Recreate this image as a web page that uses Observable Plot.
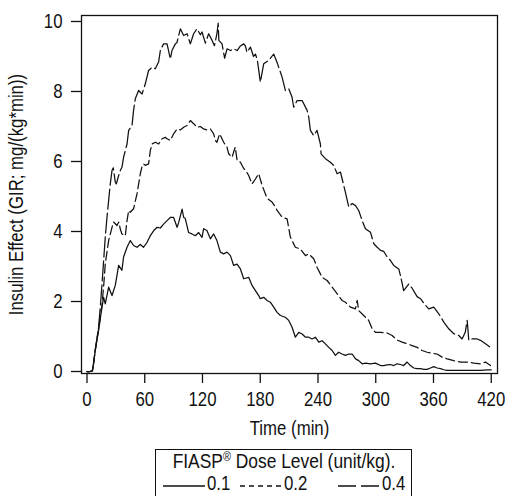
<!DOCTYPE html>
<html>
<head>
<meta charset="utf-8">
<script src="https://cdn.jsdelivr.net/npm/d3@7"></script>
<script src="https://cdn.jsdelivr.net/npm/@observablehq/plot@0.6"></script>
<style>
  body { margin: 0; background: #fff; }
  #wrap { position: relative; width: 505px; height: 496px; overflow: hidden; font-family: "Liberation Sans", Arial, sans-serif; color: #111; }
  #legend { position: absolute; left: 155px; top: 449px; width: 257px; height: 60px; border: 1.3px solid #111; box-sizing: border-box; font-size: 20px; }
  #legend .ttl { position: absolute; left: 0; right: 0; top: 1px; line-height: 20px; white-space: nowrap; text-align: center; }
  #legend .ttl span.in { display: inline-block; transform: scaleX(0.87); transform-origin: 50% 50%; }
  #legend .ttl sup { font-size: 0.62em; vertical-align: 0.55em; line-height: 0; }
  #legend .row { position: absolute; left: 0; top: 23px; width: 100%; height: 22px; }
  #legend .item { position: absolute; top: 0; white-space: nowrap; line-height: 20px; }
  #legend .item svg { vertical-align: middle; position: relative; top: 1px; }
  #legend .item span { display: inline-block; transform: scaleX(0.84); transform-origin: 0 50%; margin-left: 2px; }
</style>
</head>
<body>
<div id="wrap"></div>
<script>
// ---- data ----
const doses = ["0.1", "0.2", "0.4"];
const xTicks = [0, 60, 120, 180, 240, 300, 360, 420];
const yTicks = [0, 2, 4, 6, 8, 10];
const xLabel = "Time (min)";
const yLabel = "Insulin Effect (GIR; mg/(kg*min))";
const legendTitle = "FIASP® Dose Level (unit/kg).";

const t01 = [0,3,5.6,6.9,8.6,12,15.6,17.3,19,22.5,26,29.4,32.9,36.3,38,41.6,45,48.4,52,55.4,58.8,62.4,65.8,69.2,72.8,76.2,79.6,83.2,86.6,90,93.6,95.3,98.8,100.5,102,105.6,109,112.6,116,119.5,121.2,124.6,128.2,131.6,135,138.6,142,145.5,149,152.4,155.9,159.4,162.8,168,171.5,175,178.4,180,183.6,187.1,190.5,194,197.5,201,206,209.6,213,216.5,220,223.5,227,230.4,233.9,237.3,240.8,244.3,247.7,251.2,254.7,258.1,261.5,265,268.5,272,275.5,279,282.3,285.9,289.4,294.5,299.7,305,308.3,311.8,315.3,318.7,322.2,325.7,329,332.6,336,339.5,343,346.5,350,353.4,356.9,360.3,363.8,367.3,370.7,374.2,381,388,395,401.9,408.8,415.8,420];
const y01 = [0,0,0.02,0.23,0.6,1.17,1.84,2.12,1.93,2.41,2.17,2.46,3.03,2.89,3.27,3.55,3.74,3.6,3.55,3.63,3.55,3.69,3.88,4.02,4.12,4.1,4.21,4.31,4.4,4.4,4.12,4.26,4.64,4.4,4.38,3.97,3.93,3.88,3.97,3.83,4.08,4.03,3.79,3.93,3.74,3.41,3.36,3.41,3.31,3.03,3.07,2.93,2.65,2.69,2.46,2.31,2.17,2.08,2.12,2.03,1.98,1.84,1.69,1.6,1.55,1.46,1.27,0.98,1.12,1.07,0.98,0.98,0.93,0.98,0.84,0.88,0.79,0.69,0.6,0.46,0.55,0.5,0.46,0.5,0.5,0.36,0.31,0.22,0.24,0.22,0.24,0.17,0.17,0.19,0.2,0.17,0.22,0.2,0.17,0.27,0.17,0.1,0.08,0.08,0.06,0.06,0.1,0.14,0.1,0.08,0.05,0.03,0.03,0.03,0.03,0.03,0.03,0.05,0.05];

const t02 = [0,3,5.6,6.9,8.6,12,15.6,17.5,19,22.5,26,27.7,31.2,33,34.6,36.3,39.8,41.6,43.3,45,48.4,52,55.4,57,58.8,60.6,64,65.8,67.5,71,74.5,78,81.4,83.1,86.6,90,93.6,97,100.4,104,107.4,110.8,114.3,117.8,121.2,124.7,128.2,131.6,133.4,135,137.8,142,145.5,147.2,150.7,154,156,159.4,162.8,165,168,171.5,175,178.4,182,184,187.1,192.3,195.7,197.5,202.7,207.9,211.3,216.5,221.7,227,230.4,235.6,239,244.3,249.5,254.7,260,265,268.5,273.7,278.9,280.7,282.3,287.5,292.7,296.3,299.7,305,311.9,317,322.2,327.4,332.6,337.8,343,348.2,353.4,358.6,363.8,369,374.2,381,388,395,401.9,408.8,414,419.2];
const y02 = [0,0,0.02,0.25,0.62,1.2,1.9,2.5,3.08,3.74,4.12,4.27,4.17,4.27,4.07,3.93,3.88,4.31,4.6,4.55,4.65,5.08,5.65,5.84,5.93,5.89,5.93,6.31,6.5,6.55,6.5,6.65,6.69,6.65,6.6,6.79,6.93,6.9,6.98,7.03,7.17,7.08,6.98,7.0,6.93,6.9,6.93,6.79,6.6,6.55,6.79,6.55,6.41,6.22,6.12,6.41,6.03,5.98,5.8,5.74,5.6,5.36,5.5,5.65,5.31,5.17,4.95,4.84,4.7,4.6,4.41,4.36,3.84,3.55,3.5,3.31,3.36,3.22,2.98,2.69,2.6,2.41,2.22,2.03,1.98,1.84,1.79,2.03,1.74,1.6,1.46,1.22,1.12,1.12,1.1,1.03,0.9,0.84,0.79,0.74,0.69,0.6,0.55,0.52,0.5,0.41,0.36,0.31,0.27,0.27,0.24,0.22,0.27,0.17];

const t04 = [0,3,5.6,6.9,8.6,12,14,15.6,17.3,19,20.8,22.5,24.2,26,27.3,29.4,30.5,32.9,34.6,36.4,38,41.6,43.3,46.8,48.4,50.2,53.6,57.2,60.6,64,67.6,71,74.4,76.2,79.6,83.2,86.6,88.3,91.8,93.5,97,100.4,104,107.4,110.8,114.3,117.8,119.5,123,126.4,130,132.4,135,136.3,137,140.3,143,145.5,149,152.4,156,159.4,162.8,164.6,166.2,169.8,173,175,177,180.1,183.6,188.8,194,198,202.7,206.1,209.6,213,214.8,218.3,223.5,228.7,230.4,232.1,235.6,239,242.5,243.2,247.7,252.9,256.3,259.9,263.3,266,268.5,272,275.5,279,282.3,285.9,289.3,294.5,298,301.5,305,308.4,311.9,315.3,318.7,323.9,325.7,329,334.3,337.8,343,346.5,351.7,355,360.3,365.5,370.7,375.9,381,386.3,389.7,393,395,396.7,400,405.4,408.8,414,419.2];
const y04 = [0,0,0.02,0.25,0.62,1.25,1.9,2.5,3.17,3.84,4.41,4.89,5.36,5.74,5.82,5.41,5.36,5.6,5.74,5.84,6.12,6.5,6.89,7.03,7.46,7.79,8.03,7.93,8.22,8.6,8.69,8.65,8.84,9.17,9.36,9.36,8.93,9.17,9.36,9.4,9.79,9.6,9.65,9.36,9.65,9.79,9.62,9.7,9.38,9.65,9.46,9.31,9.65,9.95,9.46,9.36,8.95,9.22,9.17,9.22,9.17,9.3,9.36,9.3,9.12,9.27,9.0,9.07,8.9,8.27,8.79,8.89,9.07,8.79,8.41,8.03,8.08,7.84,7.55,7.74,7.74,7.46,7.27,6.89,6.74,6.89,6.5,6.22,6.08,5.98,5.89,5.65,5.7,5.4,5.12,4.7,4.8,4.74,4.6,4.31,4.08,3.98,3.65,3.55,3.46,3.43,3.27,3.17,3.03,2.93,2.74,2.31,2.5,2.38,2.14,2.08,1.89,1.79,1.84,1.65,1.41,1.22,1.08,1.03,0.93,1.12,1.46,0.89,0.93,0.93,0.89,0.79,0.69];

// ---- build ----
const series = [
  {dose: doses[0], t: t01, y: y01, dash: null},
  {dose: doses[1], t: t02, y: y02, dash: "9,4"},
  {dose: doses[2], t: t04, y: y04, dash: "20,4"}
];
const FONT = '"Liberation Sans", Arial, sans-serif';
const INK = "#111";
const SQUEEZE = 0.84; // emulate the condensed typeface of the reference

const lineMarks = series.map(s => {
  const rows = s.t.map((t, i) => ({t, v: s.y[i]}));
  return Plot.line(rows, {x: "t", y: "v", stroke: INK, strokeWidth: 1.25, strokeDasharray: s.dash, strokeLinejoin: "round"});
});

const H = 445;
const chart = Plot.plot({
  width: 505,
  height: H,
  marginLeft: 81,
  marginRight: 8,
  marginTop: 15,
  marginBottom: H - 373,
  style: {fontFamily: FONT, fontSize: "20px", color: INK, background: "#fff", overflow: "visible"},
  x: {domain: [-5.7, 426.5]},
  y: {domain: [-0.057, 10.171]},
  marks: [
    Plot.frame({stroke: INK, strokeWidth: 1.3}),
    Plot.axisX({ticks: xTicks, tickSize: 10, tickPadding: 8, tickFormat: d => String(d), label: xLabel, labelAnchor: "center", labelOffset: 61, labelArrow: "none", stroke: INK, strokeWidth: 1.3}),
    Plot.axisY({ticks: yTicks, tickSize: 10, tickPadding: 9, tickFormat: d => String(d), label: yLabel, labelAnchor: "center", labelOffset: 73, labelArrow: "none", stroke: INK, strokeWidth: 1.3}),
    ...lineMarks
  ]
});
// narrow every text horizontally about its own anchor
d3.select(chart).selectAll("text").each(function () {
  const tr = this.getAttribute("transform") || "";
  this.setAttribute("transform", tr + ` scale(${SQUEEZE},1)`);
});
const wrap = document.getElementById("wrap");
wrap.appendChild(chart);

// ---- legend ----
const legend = document.createElement("div");
legend.id = "legend";
const ttl = document.createElement("div");
ttl.className = "ttl";
const inner = document.createElement("span");
inner.className = "in";
const [pre, post] = legendTitle.split("®");
inner.append(pre);
const sup = document.createElement("sup");
sup.textContent = "®";
inner.append(sup, post);
ttl.appendChild(inner);
legend.appendChild(ttl);
const row = document.createElement("div");
row.className = "row";
const itemLeft = [7, 84, 182];
const swW = [42, 42, 42];
const legDash = [null, "5,4", "18,5"];
series.forEach((s, i) => {
  const it = document.createElement("span");
  it.className = "item";
  it.style.left = itemLeft[i] + "px";
  const svg = d3.create("svg").attr("width", swW[i]).attr("height", 10);
  svg.append("line").attr("x1", 0).attr("x2", swW[i]).attr("y1", 5).attr("y2", 5)
    .attr("stroke", INK).attr("stroke-width", 1.3).attr("stroke-dasharray", legDash[i]);
  it.appendChild(svg.node());
  const lab = document.createElement("span");
  lab.textContent = s.dose;
  it.appendChild(lab);
  row.appendChild(it);
});
legend.appendChild(row);
wrap.appendChild(legend);
</script>
</body>
</html>
